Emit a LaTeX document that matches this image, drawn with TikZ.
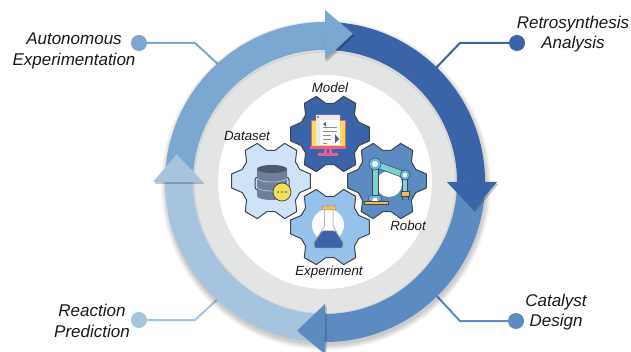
\documentclass[tikz,border=0pt]{standalone}
\usepackage{fontspec}
\setmainfont{Liberation Sans}
\usetikzlibrary{calc,positioning}

\definecolor{autoblue}{HTML}{7BA7D0}
\definecolor{retroblue}{HTML}{3B63A8}
\definecolor{catblue}{HTML}{5B8BC0}
\definecolor{reactblue}{HTML}{A6C4DE}
\definecolor{datablue}{HTML}{CFE3F8}
\definecolor{expblue}{HTML}{96C1EA}
\definecolor{ringgray}{HTML}{E3E5E5}
\definecolor{gearline}{HTML}{3F454B}
\definecolor{dbgray}{HTML}{6F7F99}
\definecolor{iconyellow}{HTML}{F7DF55}
\definecolor{capyellow}{HTML}{F4BE4F}
\definecolor{iconpink}{HTML}{E5608F}
\definecolor{armteal}{HTML}{7FD0D2}
\definecolor{jointblue}{HTML}{6FB6EA}

% body of one ring segment, clockwise
\newcommand{\ringbody}[3]{
  \draw[#1, line width=28pt] ($(ring)+(#2:146)$) arc[start angle=#2, end angle=#3, radius=146];
}
% head of one ring segment
\newcommand{\ringhead}[2]{
  \fill[black, opacity=.22] ($(ring)+(#2:122)+(1.5,-2)$) -- ($(ring)+(#2:172)+(1.5,-2)$) -- ($(ring)+(#2-10.6:151)+(1.5,-2)$) -- cycle;
  \fill[#1] ($(ring)+(#2:122)$) -- ($(ring)+(#2:172)$) -- ($(ring)+(#2-10.6:151)$) -- cycle;
}
% one gear, six teeth
\newcommand{\gearat}[3]{
  \coordinate (#1) at (#2);
  \begin{scope}[shift={(#1)}]
    \draw[gear, fill=#3] (-22:31) \foreach \a in {0,60,...,300} { -- (\a-22:31) -- (\a-10:40) -- (\a+10:40) -- (\a+22:31) } -- cycle;
  \end{scope}
}

\begin{document}
\begin{tikzpicture}[x=1pt, y=1pt]
  \tikzset{
    gear/.style={draw=gearline, line width=1pt, line join=round},
    label/.style={font=\itshape\fontsize{13.3}{15}\selectfont, text=black!90},
    outer/.style={font=\itshape\fontsize{17}{20.5}\selectfont, text=black!90, align=center},
    dot/.style={circle, minimum size=16pt, inner sep=0pt},
    link/.style={line width=2pt, line join=round},
  }
  \useasboundingbox[fill=white] (0,0) rectangle (631,-352);
  \coordinate (ring) at (325,-182);

  % connectors
  \node[dot, fill=autoblue] (autodot) at (139,-43) {};
  \node[dot, fill=retroblue] (retrodot) at (517,-43) {};
  \node[dot, fill=catblue] (catdot) at (516,-321) {};
  \node[dot, fill=reactblue] (reactdot) at (139,-320) {};
  \coordinate (autoend) at (220,-66);
  \coordinate (retroend) at (434,-70);
  \coordinate (catend) at (434,-293);
  \coordinate (reactend) at (220,-297);
  \draw[link, autoblue] (autodot) -- (195,-43) -- (autoend);
  \draw[link, retroblue] (retrodot) -- (460,-43) -- (retroend);
  \draw[link, catblue] (catdot) -- (460,-321) -- (catend);
  \draw[link, reactblue] (reactdot) -- (195,-320) -- (reactend);

  \node[outer] (auto) at (74,-51) {Autonomous\\Experimentation};
  \node[outer] (retro) at (573,-34) {Retrosynthesis\\Analysis};
  \node[outer] (cat) at (556,-312) {Catalyst\\Design};
  \node[outer] (react) at (92,-321) {Reaction\\Prediction};

  % ring
  \foreach \r in {160,161,162,163,164,165} {
    \fill[black, opacity=.035] ($(ring)+(1,-3)$) circle (\r);
  }
  \fill[ringgray] (ring) circle (133);
  \draw[black, opacity=.06, line width=2pt] ($(ring)+(0,-1)$) circle (131);
  \fill[white] (ring) circle (107);
  \ringbody{autoblue}{180}{90}
  \ringbody{retroblue}{90}{0}
  \ringbody{catblue}{0}{-90}
  \ringbody{reactblue}{-90}{-180}
  \ringhead{autoblue}{90}
  \ringhead{retroblue}{0}
  \ringhead{catblue}{-90}
  \ringhead{reactblue}{180}

  % gears
  \gearat{modelgear}{330,-134}{retroblue}
  \gearat{datagear}{271,-181}{datablue}
  \gearat{robotgear}{387,-181}{catblue}
  \gearat{expgear}{330,-227}{expblue}

  % model icon
  \fill[iconyellow] (311,-121) rectangle (345,-146);
  \draw[iconpink, line width=1pt] (311,-121) rectangle (345,-147);
  \fill[iconpink] (310,-146) rectangle (346,-149);
  \fill[iconpink] (324,-149) rectangle (327,-153) (329,-149) rectangle (332,-153);
  \fill[iconpink] (318,-153) rectangle (338,-156);
  \fill[white] (316,-116) rectangle (340,-145);
  \fill[black!8] (316,-115) rectangle (340,-120) (316,-120) rectangle (320,-145);
  \fill[iconpink] (317,-116.5) rectangle (318.5,-118);
  \fill[retroblue] (323,-124) -- (326,-122) -- (326,-127) -- cycle;
  \foreach \y/\e in {-127/337,-131/337,-135/331,-139/331,-143/327} {
    \draw[black!45, line width=.7pt] (323,\y) -- (\e,\y);
  }
  \fill[retroblue] (335,-134) -- (339,-139) -- (335,-143) -- cycle;

  % dataset icon
  \draw[gearline, line width=1pt, rounded corners=3pt] (255,-177) rectangle (289,-190);
  \fill[dbgray] (257,-169) -- (257,-196) arc[start angle=180, end angle=360, x radius=15, y radius=4] -- (287,-169) -- cycle;
  \fill[dbgray!70!black] (272,-169) ellipse (15 and 4);
  \foreach \y in {-178,-187} {
    \draw[datablue!70!dbgray, line width=.7pt] (257,\y) arc[start angle=180, end angle=360, x radius=15, y radius=4];
  }
  \node[circle, fill=iconyellow, draw=gearline, line width=.7pt, minimum size=18pt, inner sep=0pt] (datadots) at (282,-192) {};
  \foreach \x in {278,282,286} {
    \fill[dbgray] (\x,-192) circle (1.2);
  }

  % robot icon
  \fill[white] (389,-184) circle (13);
  \fill[jointblue, draw=gearline, line width=.5pt] (368,-201) arc[start angle=180, end angle=0, radius=7] -- cycle;
  \fill[white] (372,-201) arc[start angle=180, end angle=0, radius=3] -- cycle;
  \fill[capyellow, draw=gearline, line width=.5pt] (364,-201) rectangle (388,-204);
  \fill[armteal, draw=gearline, line width=.5pt] (372,-164) rectangle (378,-195);
  \fill[armteal, draw=gearline, line width=.5pt] (376,-161) -- (406,-172) -- (404,-178) -- (374,-167) -- cycle;
  \fill[armteal, draw=gearline, line width=.5pt] (402.5,-175) rectangle (407.5,-191);
  \fill[capyellow, draw=gearline, line width=.5pt] (401,-191) rectangle (409,-196);
  \draw[gearline, line width=1pt] (402,-196) -- (402,-200) (408,-196) -- (408,-200);
  \fill[jointblue, draw=gearline, line width=.5pt] (375,-164) circle (6);
  \fill[white] (375,-164) circle (3);
  \fill[jointblue, draw=gearline, line width=.5pt] (405,-175) circle (5);
  \fill[white] (405,-175) circle (2.2);

  % experiment icon
  \fill[white] (328,-225) circle (16);
  \fill[white, draw=gearline!60, line width=.5pt] (324.5,-209) -- (324.5,-226) -- (314,-243) -- (314,-247) -- (343,-247) -- (343,-243) -- (333,-226) -- (333,-209) -- cycle;
  \fill[retroblue, draw=gearline!60, line width=.5pt, rounded corners=1pt] (322.5,-231) -- (314,-243) -- (315,-248) -- (342,-248) -- (343,-243) -- (335,-231) -- cycle;
  \fill[capyellow, draw=gearline!60, line width=.5pt, rounded corners=1pt] (322,-206) rectangle (336,-210);

  % labels
  \node[label] (model) at (330,-88) {Model};
  \node[label] (dataset) at (247,-136) {Dataset};
  \node[label] (robot) at (408,-226) {Robot};
  \node[label] (experiment) at (329,-272) {Experiment};
\end{tikzpicture}
\end{document}
